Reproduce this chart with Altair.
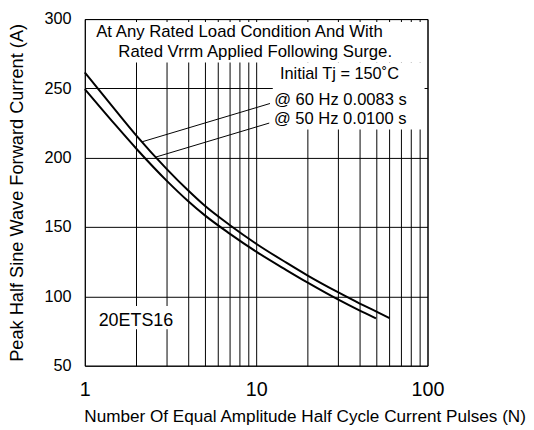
import altair as alt
import pandas as pd

# 60 Hz (upper) curve
n60 = [1, 1.5, 2, 3, 4, 5, 7, 10, 15, 20, 30, 40, 50, 60]
i60 = [261.5, 234.7, 216, 192, 176.5, 165.5, 151.5, 138, 124.3, 115, 103, 95, 89.2, 84.3]
# 50 Hz (lower) curve
n50 = [1, 1.5, 2, 3, 4, 5, 7, 10, 15, 20, 30, 40, 50]
i50 = [249.5, 224, 206.5, 183.5, 168.8, 158.6, 145.3, 132.3, 119, 109.9, 97.8, 89.9, 84.2]

x_grid = [1, 2, 3, 4, 5, 6, 7, 8, 9, 10, 20, 30, 40, 50, 60, 70, 80, 90, 100]
y_grid = [50, 75, 100, 125, 150, 175, 200, 225, 250, 275, 300]

# annotation texts
ann_text = ["At Any Rated Load Condition And With", "Rated Vrrm Applied Following Surge.",
            "Initial Tj = 150˚C", "@ 60 Hz 0.0083 s", "@ 50 Hz 0.0100 s", "20ETS16"]
ann_n = [7.99, 9.87, 68.1, 12.74, 12.7, 1.204]
ann_i = [287.2, 272.8, 256.9, 238.2, 224.0, 78.9]
ann_align = ["center", "center", "right", "left", "left", "left"]
ann_size = [17, 17, 16.6, 16.8, 16.8, 18.2]

# white boxes behind text (data coords)
box_n1 = [1.236, 12.5, 1.141]
box_n2 = [96.1, 96.1, 3.4]
box_i1 = [297.9, 268.75, 93.0]
box_i2 = [268.75, 220.45, 76.3]

# leader lines
lead_n1 = [2.16, 2.6]
lead_i1 = [211.5, 200.5]
lead_n2 = [12.04, 11.92]
lead_i2 = [239.1, 225.0]

FONT = "Liberation Sans"

curves = pd.DataFrame({
    "N": n60 + n50,
    "I": i60 + i50,
    "s": ["60"] * len(n60) + ["50"] * len(n50),
})
boxes = pd.DataFrame({"n1": box_n1, "n2": box_n2, "i1": box_i1, "i2": box_i2})
leads = pd.DataFrame({"n1": lead_n1, "n2": lead_n2, "i1": lead_i1, "i2": lead_i2})
ann = pd.DataFrame({"t": ann_text, "N": ann_n, "I": ann_i, "a": ann_align, "fs": ann_size})

xs = alt.Scale(type="log", domain=[1, 100], nice=False)
ys = alt.Scale(domain=[50, 300], nice=False)

x_axis = alt.Axis(
    values=x_grid, format="d",
    labelExpr="(datum.value == 1 || datum.value == 10 || datum.value == 100) ? datum.label : ''",
    labelFontSize=20, labelBaseline="alphabetic", labelPadding=30, labelOverlap=False,
    labelFlush=False, labelBound=False,
    title="Number Of Equal Amplitude Half Cycle Current Pulses (N)",
    titleFontSize=17.4, titleFontWeight="normal", titleAlign="left", titleAnchor="start",
    titleX=-1, titleY=56.7, titleBaseline="alphabetic",
)
y_axis = alt.Axis(
    values=y_grid,
    labelExpr="datum.value % 50 == 0 ? datum.label : ''",
    labelFontSize=16.5, labelBaseline="middle", labelPadding=14, labelOverlap=False,
    labelFlush=False, labelBound=False,
    title="Peak Half Sine Wave Forward Current (A)",
    titleFontSize=18.5, titleFontWeight="normal", titleAngle=-90, titleAlign="center",
    titleBaseline="alphabetic", titleX=-63, titleY=176,
)

rects = alt.Chart(boxes).mark_rect(fill="white", stroke=None).encode(
    x=alt.X("n1:Q", scale=xs, axis=x_axis),
    x2="n2:Q",
    y=alt.Y("i1:Q", scale=ys, axis=y_axis),
    y2="i2:Q",
)

lines = alt.Chart(curves).mark_line(color="black", strokeWidth=2, interpolate="monotone").encode(
    x=alt.X("N:Q", scale=xs),
    y=alt.Y("I:Q", scale=ys),
    detail="s:N",
)

leaders = alt.Chart(leads).mark_rule(color="black", strokeWidth=1).encode(
    x=alt.X("n1:Q", scale=xs), x2="n2:Q",
    y=alt.Y("i1:Q", scale=ys), y2="i2:Q",
)

texts = []
for al in ["left", "center", "right"]:
    texts.append(
        alt.Chart(ann).transform_filter(alt.datum.a == al).mark_text(
            align=al, baseline="alphabetic", font=FONT, color="black"
        ).encode(
            x=alt.X("N:Q", scale=xs), y=alt.Y("I:Q", scale=ys), text="t:N",
            size=alt.Size("fs:Q", scale=None, legend=None),
        )
    )

chart = alt.layer(rects, lines, leaders, *texts).properties(
    width=348, height=352,
    padding={"left": 78, "top": 8, "right": 100, "bottom": 60},
    autosize=alt.AutoSizeParams(type="none"),
).configure_view(
    stroke="black", strokeWidth=1,
).configure_axis(
    domain=False, ticks=False, tickSize=0,
    grid=True, gridColor="black", gridOpacity=1, gridWidth=1,
    labelFont=FONT, titleFont=FONT, labelColor="black", titleColor="black",
)

chart.save("out.html", embed_options={"renderer": "svg", "actions": False})
